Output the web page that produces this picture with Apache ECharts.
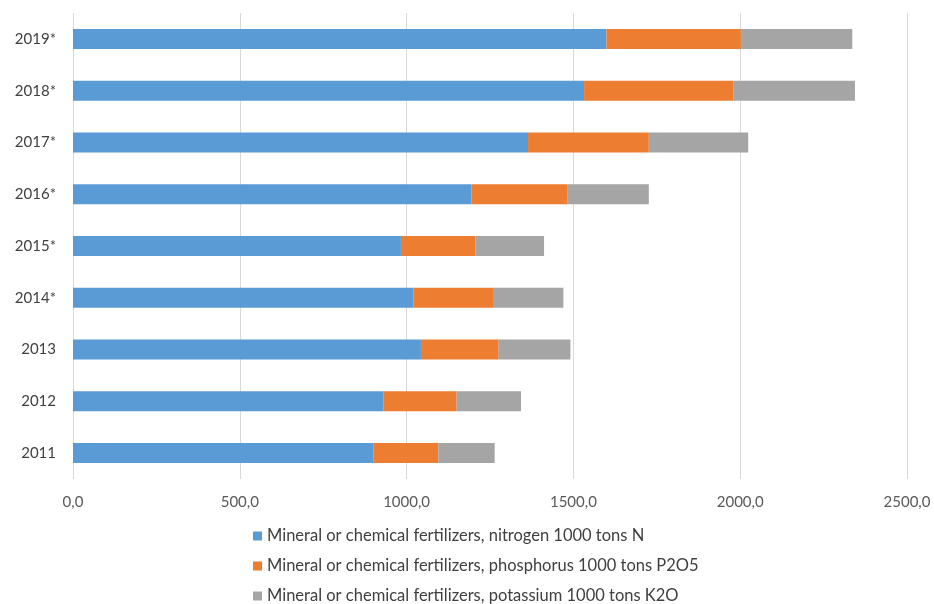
<!DOCTYPE html>
<html>
<head>
<meta charset="utf-8">
<script src="https://cdn.jsdelivr.net/npm/echarts@6/dist/echarts.min.js"></script>
<style>
  html, body { margin: 0; padding: 0; background: #ffffff; }
  #chart { width: 934px; height: 604px; }
</style>
</head>
<body>
<div id="chart"></div>
<script>
// Years (bottom to top on the category axis)
const years = ['2011', '2012', '2013', '2014*', '2015*', '2016*', '2017*', '2018*', '2019*'];

// Fertilizer use, thousand tons of nutrient
const nitrogen   = [900, 930, 1043, 1020, 983, 1195, 1364, 1532, 1599];
const phosphorus = [195, 220, 233, 239, 224, 288, 362, 447, 403];
const potassium  = [169, 193, 215, 211, 205, 243, 298, 365, 334];

const seriesNames = [
  'Mineral or chemical fertilizers, nitrogen 1000 tons N',
  'Mineral or chemical fertilizers, phosphorus 1000 tons P2O5',
  'Mineral or chemical fertilizers, potassium 1000 tons K2O'
];
const colors = ['#5B9BD5', '#ED7D31', '#A5A5A5'];

const font = 'Lato, "Open Sans", sans-serif';

const chart = echarts.init(document.getElementById('chart'));
const values = [nitrogen, phosphorus, potassium];

chart.setOption({
  animation: false,
  color: colors,
  grid: { left: 73, right: 27, top: 13, bottom: 125, containLabel: false },
  xAxis: {
    type: 'value',
    min: 0,
    max: 2500,
    interval: 500,
    axisLine: { show: false },
    axisTick: { show: false },
    splitLine: { show: true, lineStyle: { color: '#D9D9D9', width: 1 } },
    axisLabel: {
      color: '#595959',
      fontFamily: font,
      fontSize: 15,
      margin: 16,
      formatter: v => v.toFixed(1).replace('.', ',')
    }
  },
  yAxis: {
    type: 'category',
    data: years,
    axisLine: { show: false },
    axisTick: { show: false },
    axisLabel: { color: '#404040', fontFamily: font, fontSize: 15, margin: 17 }
  },
  legend: {
    orient: 'vertical',
    left: 253,
    top: 527,
    height: 120,
    padding: 0,
    itemWidth: 9,
    itemHeight: 9,
    itemGap: 12,
    icon: 'rect',
    textStyle: { color: '#404040', fontFamily: font, fontSize: 16.5, lineHeight: 18 },
    data: seriesNames
  },
  series: seriesNames.map((name, i) => ({
    name: name,
    type: 'bar',
    stack: 'total',
    data: values[i],
    barWidth: 20,
    itemStyle: { color: colors[i] }
  }))
});
</script>
</body>
</html>
